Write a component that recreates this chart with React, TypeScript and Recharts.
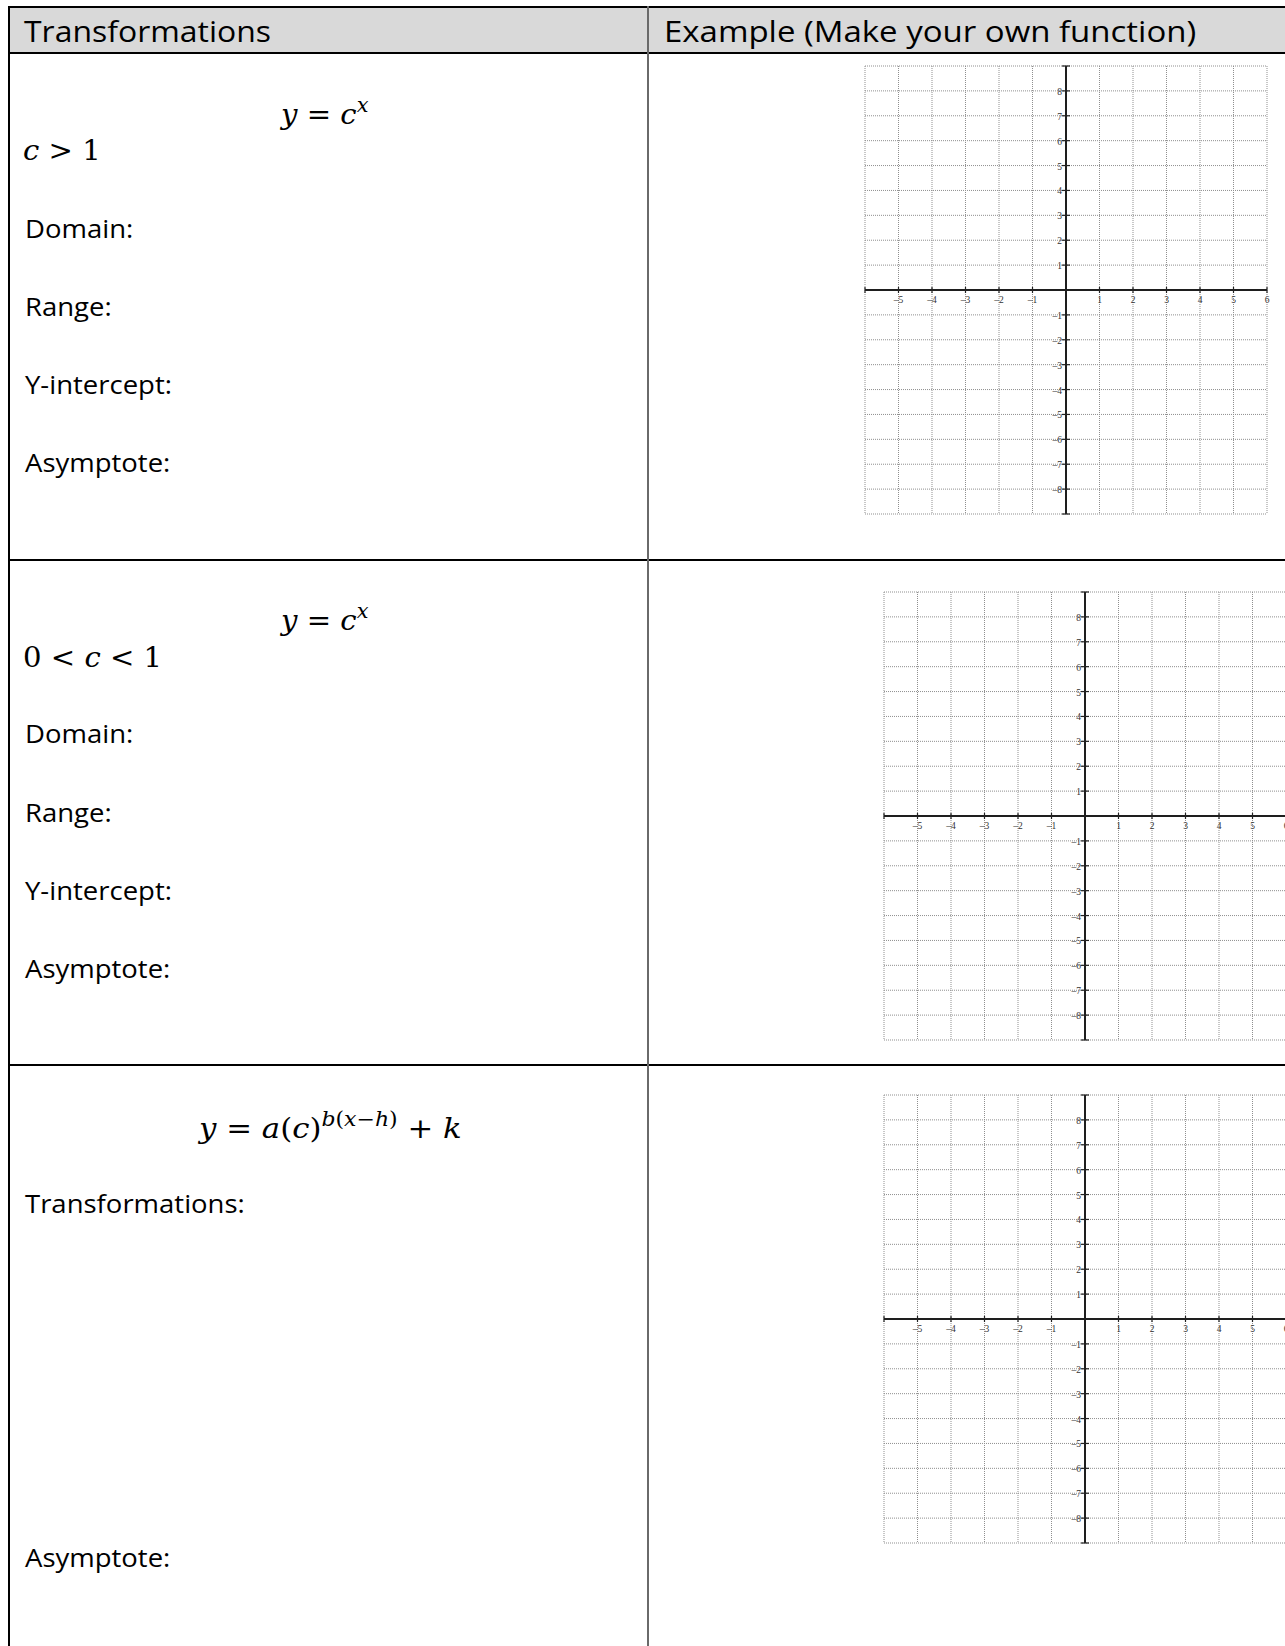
import React from 'react';
import { ScatterChart, Scatter, XAxis, YAxis, CartesianGrid, ReferenceLine } from 'recharts';

// grid values (blank coordinate plane)
const gridX = [-6, -5, -4, -3, -2, -1, 0, 1, 2, 3, 4, 5, 6];
const gridY = [9, 8, 7, 6, 5, 4, 3, 2, 1, 0, -1, -2, -3, -4, -5, -6, -7, -8, -9];
const xTickLabels = [-5, -4, -3, -2, -1, 1, 2, 3, 4, 5, 6];
const yTickLabels = [8, 7, 6, 5, 4, 3, 2, 1, -1, -2, -3, -4, -5, -6, -7, -8];

// worksheet text
const headerLeft = 'Transformations';
const headerRight = 'Example (Make your own function)';
const rowLabels = ['Domain:', 'Range:', 'Y-intercept:', 'Asymptote:'];
const row3Labels = ['Transformations:', 'Asymptote:'];

const fmt = (v: number) => (v < 0 ? `–${Math.abs(v)}` : String(v));

const xTickPts = gridX
  .filter((v) => v !== 0)
  .map((v) => ({ x: v, y: 0, label: xTickLabels.includes(v) ? fmt(v) : '' }));
const yTickPts = gridY
  .filter((v) => v !== 0)
  .map((v) => ({ x: 0, y: v, label: yTickLabels.includes(v) ? fmt(v) : '' }));

const XTick = (props: any) => {
  const { cx, cy, payload } = props;
  return (
    <g>
      <line x1={cx} y1={cy - 3} x2={cx} y2={cy + 3} stroke="#222" strokeWidth={1.2} />
      {payload.label ? (
        <text x={cx} y={cy + 13} textAnchor="middle" fontSize={9.5} fontFamily="Liberation Serif" fill="#333">
          {payload.label}
        </text>
      ) : null}
    </g>
  );
};

const YTick = (props: any) => {
  const { cx, cy, payload } = props;
  return (
    <g>
      <line x1={cx - 4} y1={cy} x2={cx + 4} y2={cy} stroke="#222" strokeWidth={1.2} />
      {payload.label ? (
        <text x={cx - 4} y={cy + 4} textAnchor="end" fontSize={9.5} fontFamily="Liberation Serif" fill="#333">
          {payload.label}
        </text>
      ) : null}
    </g>
  );
};

const PAD = 14;

// one blank coordinate plane, left/top = plot corner on the page
const Plane = ({ left, top, width, height }: { left: number; top: number; width: number; height: number }) => (
  <div style={{ position: 'absolute', left: left - PAD, top: top - PAD }}>
    <ScatterChart
      width={width + PAD * 2}
      height={height + PAD * 2}
      margin={{ top: PAD, right: PAD, bottom: PAD, left: PAD }}
    >
      <XAxis type="number" dataKey="x" domain={[-6, 6]} ticks={gridX} hide />
      <YAxis type="number" dataKey="y" domain={[-9, 9]} ticks={gridY} hide />
      <CartesianGrid
        verticalValues={gridX}
        horizontalValues={gridY}
        stroke="#8f8f8f"
        strokeDasharray="1 1"
      />
      <ReferenceLine y={0} stroke="#1e1e1e" strokeWidth={2} />
      <ReferenceLine x={0} stroke="#1e1e1e" strokeWidth={2} />
      <Scatter data={xTickPts} shape={XTick} isAnimationActive={false} />
      <Scatter data={yTickPts} shape={YTick} isAnimationActive={false} />
    </ScatterChart>
  </div>
);

const SANS = "'Open Sans', sans-serif";
const MATH = "'DejaVu Serif', serif";

const Txt = ({ x, y, size, sx = 1, family, children }: any) => (
  <text
    transform={`translate(${x} ${y}) scale(${sx} 1)`}
    fontSize={size}
    fontFamily={family}
    fill="#000"
    xmlSpace="preserve"
    style={{ whiteSpace: 'pre' }}
  >
    {children}
  </text>
);

const I = ({ children, ...rest }: any) => (
  <tspan fontStyle="italic" {...rest}>
    {children}
  </tspan>
);

export default function App() {
  const body = { size: 25, sx: 1.1, family: SANS };
  const math = { size: 28, sx: 1.04, family: MATH };
  const row1Base = [238, 316, 394, 472];
  const row2Base = [743, 822, 900, 978];

  return (
    <div
      style={{
        position: 'absolute',
        left: 0,
        top: 0,
        width: 1285,
        height: 1646,
        overflow: 'hidden',
        background: '#fff',
      }}
    >
      {/* header band */}
      <div style={{ position: 'absolute', left: 10, top: 8, width: 1300, height: 44, background: '#d9d9d9' }} />
      {/* table rules */}
      <div style={{ position: 'absolute', left: 8, top: 6, width: 1300, height: 2, background: '#000' }} />
      <div style={{ position: 'absolute', left: 8, top: 52, width: 1300, height: 2, background: '#000' }} />
      <div style={{ position: 'absolute', left: 8, top: 559, width: 1300, height: 2, background: '#000' }} />
      <div style={{ position: 'absolute', left: 8, top: 1064, width: 1300, height: 2, background: '#000' }} />
      <div style={{ position: 'absolute', left: 8, top: 6, width: 2, height: 1660, background: '#000' }} />
      <div style={{ position: 'absolute', left: 647, top: 6, width: 2, height: 1660, background: '#6a6a6a' }} />

      <svg width={1285} height={1646} style={{ position: 'absolute', left: 0, top: 0 }}>
        <Txt x={24} y={42} size={30} sx={1.065} family={SANS}>{headerLeft}</Txt>
        <Txt x={664} y={42} size={30} sx={1.1} family={SANS}>{headerRight}</Txt>

        {/* row 1 */}
        <Txt x={281} y={124} {...math}>
          <I>y</I> = <I>c</I>
          <I dy={-12} fontSize={20}>x</I>
        </Txt>
        <Txt x={23} y={160} {...math}>
          <I>c</I> {'>'} 1
        </Txt>
        {rowLabels.map((t, i) => (
          <Txt key={`r1-${i}`} x={25} y={row1Base[i]} {...body}>{t}</Txt>
        ))}

        {/* row 2 */}
        <Txt x={281} y={630} {...math}>
          <I>y</I> = <I>c</I>
          <I dy={-12} fontSize={20}>x</I>
        </Txt>
        <Txt x={23} y={667} {...math}>
          0 {'<'} <I>c</I> {'<'} 1
        </Txt>
        {rowLabels.map((t, i) => (
          <Txt key={`r2-${i}`} x={25} y={row2Base[i]} {...body}>{t}</Txt>
        ))}

        {/* row 3 */}
        <Txt x={199} y={1138} size={28} sx={1.1} family={MATH}>
          <I>y</I> = <I>a</I>(<I>c</I>)
          <tspan dy={-12} fontSize={20}>
            <I>b</I>(<I>x</I>−<I>h</I>)
          </tspan>
          <tspan dy={12}> + </tspan>
          <I>k</I>
        </Txt>
        <Txt x={25} y={1213} {...body}>{row3Labels[0]}</Txt>
        <Txt x={25} y={1567} {...body}>{row3Labels[1]}</Txt>
      </svg>

      <Plane left={865} top={66} width={402} height={448} />
      <Plane left={884} top={592} width={402} height={448} />
      <Plane left={884} top={1095} width={402} height={448} />
    </div>
  );
}
